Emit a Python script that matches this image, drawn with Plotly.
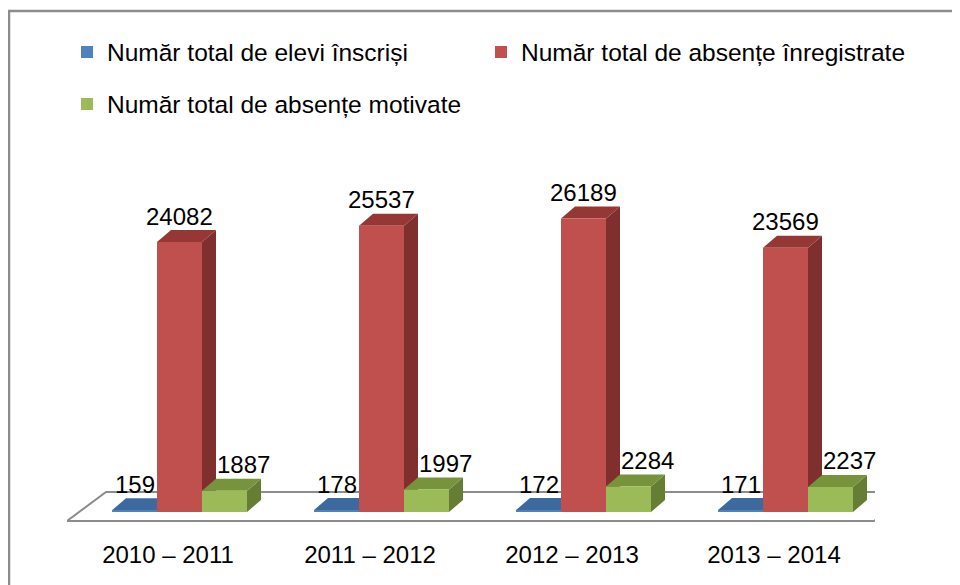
import plotly.graph_objects as go

categories = ["2010 – 2011", "2011 – 2012", "2012 – 2013", "2013 – 2014"]
elevi = [159, 178, 172, 171]
absente = [24082, 25537, 26189, 23569]
motivate = [1887, 1997, 2284, 2237]

series_names = ["Număr total de elevi înscriși",
                "Număr total de absențe înregistrate",
                "Număr total de absențe motivate"]
front_colors = ["#4F81BD", "#C0504D", "#9BBB59"]
top_colors = ["#3D6A9E", "#953735", "#77933C"]
side_colors = ["#2F5683", "#7F302E", "#667E33"]

W, H = 960, 585
PAGE_OFF = 8                       # browser default body margin
SL, SR, ST, SB = 67, 875, 130, 522  # plot area in screen px
ML = SL - PAGE_OFF
MT = ST - PAGE_OFF
MR = W - (SR - PAGE_OFF)
MB = H - (SB - PAGE_OFF)
PW, PH = SR - SL, SB - ST

PX_X = PW / 4.0                    # px per category unit
U = 24082 / 270.0                  # data units per px (vertical)
ZERO_PX = 512                      # screen y of value 0
Y_MIN = -(SB - ZERO_PX) * U
Y_MAX = (ZERO_PX - ST) * U

BAR_W = 45 / PX_X
OFFSETS = [-56 / PX_X, -11 / PX_X, 34 / PX_X]
DX = 14 / PX_X
DY = 12 * U

xs = list(range(len(categories)))
all_vals = [elevi, absente, motivate]
legend_ids = ["legend", "legend2", "legend3"]

fig = go.Figure()
for i, (name, vals) in enumerate(zip(series_names, all_vals)):
    fig.add_trace(go.Bar(
        x=xs, y=vals, name=name, width=BAR_W, offset=OFFSETS[i],
        marker=dict(color=front_colors[i], line=dict(width=0)),
        legend=legend_ids[i],
        hoverinfo="skip",
    ))

def fx(px):
    return -0.5 + (px - SL) / PX_X
def fy(px):
    return (ZERO_PX - px) * U
def px_paper(px):
    return (px - SL) / PW
def py_paper(py):
    return (SB - py) / PH

shapes = []
floor = [(67, 521), (106, 492), (913, 492), (874, 521)]
path = "M " + " L ".join(f"{fx(a)},{fy(b)}" for a, b in floor) + " Z"
shapes.append(dict(type="path", path=path, xref="x", yref="y", layer="below",
                   fillcolor="white", line=dict(color="#8C8C8C", width=2)))

for c in xs:
    for i, vals in enumerate(all_vals):
        v = vals[c]
        x0 = c + OFFSETS[i]
        x1 = x0 + BAR_W
        side = f"M {x1},0 L {x1+DX},{DY} L {x1+DX},{v+DY} L {x1},{v} Z"
        top = f"M {x0},{v} L {x0+DX},{v+DY} L {x1+DX},{v+DY} L {x1},{v} Z"
        shapes.append(dict(type="path", path=side, xref="x", yref="y", layer="below",
                           fillcolor=side_colors[i], line=dict(width=0)))
        shapes.append(dict(type="path", path=top, xref="x", yref="y", layer="below",
                           fillcolor=top_colors[i], line=dict(width=0)))

# chart border (top and left edges visible)
shapes.append(dict(type="path", xref="paper", yref="paper",
                   path=f"M {px_paper(9)},{py_paper(620)} L {px_paper(9)},{py_paper(11)} L {px_paper(975)},{py_paper(11)}",
                   line=dict(color="#8C8C8C", width=2.5)))

annotations = []
label_xshift = [0, 0, 19]
for c in xs:
    for i, vals in enumerate(all_vals):
        v = vals[c]
        annotations.append(dict(
            x=c + OFFSETS[i] + BAR_W / 2, y=v, xref="x", yref="y",
            text=str(v), showarrow=False, yanchor="middle", xanchor="center",
            yshift=26, xshift=label_xshift[i],
            font=dict(family="Liberation Sans", size=24, color="#000000"),
        ))

legend_font = dict(family="Liberation Sans", size=24.5, color="#000000")
legend_pos = [(67, 52), (481, 52), (67, 104)]
legends = {}
for lid, (lx, ly) in zip(legend_ids, legend_pos):
    legends[lid] = dict(orientation="h", x=px_paper(lx), xanchor="left",
                        y=py_paper(ly), yanchor="middle",
                        font=legend_font, bgcolor="rgba(0,0,0,0)")

fig.update_layout(
    width=W, height=H,
    margin=dict(l=ML, r=MR, t=MT, b=MB),
    paper_bgcolor="white", plot_bgcolor="rgba(0,0,0,0)",
    barmode="overlay",
    shapes=shapes, annotations=annotations,
    showlegend=True,
    **legends,
    xaxis=dict(range=[-0.5, 3.5], tickvals=xs, ticktext=categories,
               showgrid=False, zeroline=False, showline=False, ticks="",
               ticklabelstandoff=16,
               tickfont=dict(family="Liberation Sans", size=24, color="#000000"),
               fixedrange=True),
    yaxis=dict(range=[Y_MIN, Y_MAX], visible=False, showgrid=False,
               zeroline=False, fixedrange=True),
)

fig.write_html("out.html")
